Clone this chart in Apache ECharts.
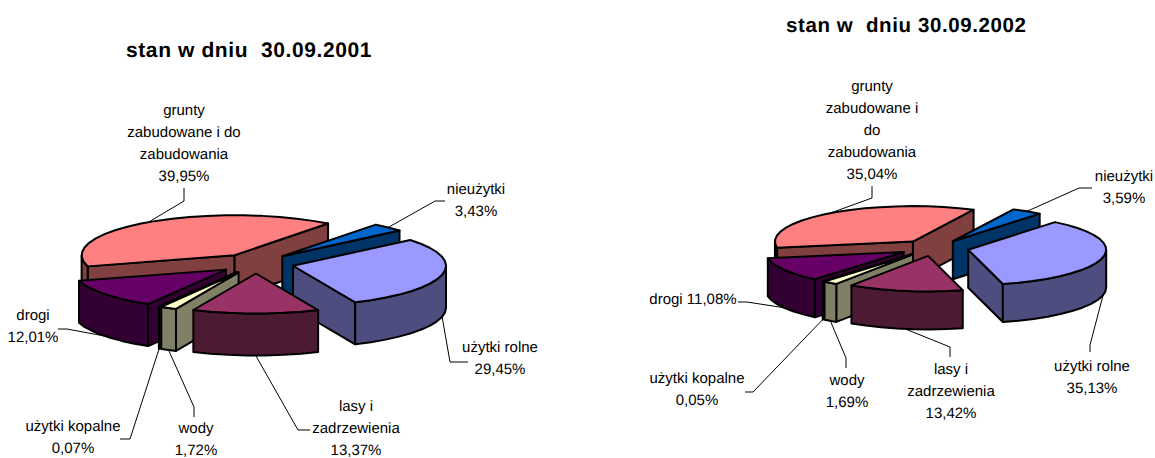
<!DOCTYPE html>
<html>
<head>
<meta charset="utf-8">
<style>
  html, body { margin: 0; padding: 0; background: #fff; }
  #main { width: 1155px; height: 458px; }
  #main text { text-rendering: geometricPrecision; }
  /* tytuly maja w oryginale rozstrzelone litery */
  #main text[style*="bold"] { letter-spacing: 0.6px; }
</style>
<script src="https://cdn.jsdelivr.net/npm/echarts@6/dist/echarts.min.js"></script>
</head>
<body>
<div id="main"></div>
<script>
// dane - kolejnosc zgodnie z ruchem wskazowek, od uzytkow rolnych
const keys = ['rolne', 'lasy', 'wody', 'kopalne', 'drogi', 'grunty', 'nieuzytki']
const values2001 = [29.45, 13.37, 1.72, 0.07, 12.01, 39.95, 3.43]
const values2002 = [35.13, 13.42, 1.69, 0.05, 11.08, 35.04, 3.59]
const names2001 = ['użytki rolne', 'lasy i\nzadrzewienia', 'wody', 'użytki kopalne', 'drogi', 'grunty\nzabudowane i do\nzabudowania', 'nieużytki']
const names2002 = ['użytki rolne', 'lasy i\nzadrzewienia', 'wody', 'użytki kopalne', 'drogi', 'grunty\nzabudowane i\ndo\nzabudowania', 'nieużytki']
const topColors = ['#9999FF', '#993366', '#FFFFCC', '#CCFFFF', '#660066', '#FF8080', '#0066CC']
const sideColors = ['#4D4D80', '#4D1A33', '#808066', '#668080', '#330033', '#804040', '#003366']
// malowane od tylu do przodu
const drawOrder = [5, 6, 0, 4, 3, 2, 1]

const FONT = '15px "Liberation Sans", Arial, sans-serif'
const TITLE_FONT = '"Liberation Sans", Arial, sans-serif'
const LINE = 22

const left = {
  cx: 256, cy: 263.5, rx: 153, ry: 40, ex: 38, ey: 10, depth: 42, startAngle: -40,
  values: values2001, names: names2001,
  // srodek etykiety [x, y] i zalamania linii odniesienia
  labels: [[500, 358.5], [356, 428], [196, 439], [73, 437.5], [33, 326.5], [184, 143], [476, 200]],
  leaders: [
    [[450, 362], [468, 362]],
    [[298, 430], [310, 430]],
    [[194, 407], [194, 417]],
    [[130, 439], [120, 439]],
    [[67, 329], [58, 329]],
    [[184, 201], [184, 188]],
    [[435, 201], [445, 201]]
  ]
}
const right = {
  cx: 934, cy: 248, rx: 138, ry: 35.5, ex: 35, ey: 8, depth: 38, startAngle: -51,
  values: values2002, names: names2002,
  labels: [[1092, 377.5], [951, 391], [847, 391.5], [697, 389.5], [693, 299.5], [872, 130.5], [1124, 187.5]],
  leaders: [
    [[1090, 345], [1090, 352]],
    [[950, 347], [950, 357]],
    [[846, 358], [846, 368]],
    [[753, 392], [745, 392]],
    [[747, 302], [738, 302]],
    [[872, 198], [872, 186]],
    [[1079, 188], [1092, 188]]
  ]
}

function rad(a) {
  return (a * Math.PI) / 180
}

// granice wycinkow w stopniach
function sliceAngles(pie) {
  let a = pie.startAngle
  return pie.values.map((v) => {
    const from = a
    a += (v / 100) * 360
    return [from, a]
  })
}

function apexOf(pie, from, to) {
  const mid = rad((from + to) / 2)
  return [pie.cx + pie.ex * Math.cos(mid), pie.cy + pie.ey * Math.sin(mid)]
}

function rimPoint(pie, apex, a, dy) {
  return [apex[0] + pie.rx * Math.cos(rad(a)), apex[1] + pie.ry * Math.sin(rad(a)) + (dy || 0)]
}

function arcPoints(pie, apex, from, to, dy) {
  const pts = []
  const n = Math.max(1, Math.ceil((to - from) / 7))
  for (let i = 0; i <= n; i++) {
    pts.push(rimPoint(pie, apex, from + ((to - from) * i) / n, dy))
  }
  return pts
}

function face(points, fill) {
  return {
    type: 'polygon',
    shape: { points: points },
    style: { fill: fill, stroke: '#000', lineWidth: 2, lineJoin: 'round' }
  }
}

function renderSlice(pie, api) {
  const i = api.value(0)
  const from = api.value(1)
  const to = api.value(2)
  const apex = apexOf(pie, from, to)
  const d = pie.depth
  const low = [apex[0], apex[1] + d]
  const children = []
  // sciany promieniowe - tylko te zwrocone do widza
  if (Math.cos(rad(from)) < 0) {
    const p = rimPoint(pie, apex, from)
    children.push(face([apex, p, [p[0], p[1] + d], low], sideColors[i]))
  }
  if (Math.cos(rad(to)) > 0) {
    const p = rimPoint(pie, apex, to)
    children.push(face([apex, p, [p[0], p[1] + d], low], sideColors[i]))
  }
  // sciana zewnetrzna, tylko przednia polowa
  const wFrom = Math.max(from, 0)
  const wTo = Math.min(to, 180)
  if (wTo > wFrom) {
    const upper = arcPoints(pie, apex, wFrom, wTo, 0)
    const lower = arcPoints(pie, apex, wFrom, wTo, d).reverse()
    children.push(face(upper.concat(lower), sideColors[i]))
  }
  children.push(face([apex].concat(arcPoints(pie, apex, from, to, 0)), topColors[i]))
  return { type: 'group', children: children }
}

function renderLabel(pie, angles, api) {
  const i = api.value(0)
  const from = angles[i][0]
  const to = angles[i][1]
  const apex = apexOf(pie, from, to)
  const mid = (from + to) / 2
  const start = rimPoint(pie, apex, mid, Math.sin(rad(mid)) > 0 ? pie.depth : 0)
  const pct = pie.values[i].toFixed(2).replace('.', ',') + '%'
  const single = pie.names[i] === 'drogi' && pie === right
  return {
    type: 'group',
    children: [
      {
        type: 'polyline',
        shape: { points: [start].concat(pie.leaders[i]) },
        style: { fill: 'none', stroke: '#000', lineWidth: 1 }
      },
      {
        type: 'text',
        style: {
          x: pie.labels[i][0],
          y: pie.labels[i][1],
          text: pie.names[i] + (single ? ' ' : '\n') + pct,
          font: FONT,
          fill: '#000',
          align: 'center',
          verticalAlign: 'middle',
          lineHeight: LINE
        }
      }
    ]
  }
}

function pieSeries(pie) {
  const angles = sliceAngles(pie)
  return [
    {
      type: 'custom',
      coordinateSystem: 'none',
      silent: true,
      animation: false,
      z: 1,
      data: keys.map((k, i) => [i]),
      renderItem: (params, api) => renderLabel(pie, angles, api)
    },
    {
      type: 'custom',
      coordinateSystem: 'none',
      silent: true,
      animation: false,
      z: 2,
      data: drawOrder.map((i) => [i, angles[i][0], angles[i][1]]),
      renderItem: (params, api) => renderSlice(pie, api)
    }
  ]
}

const myChart = echarts.init(document.getElementById('main'), null, { renderer: 'svg' })
myChart.setOption({
  backgroundColor: '#fff',
  animation: false,
  title: [
    {
      text: 'stan w dniu  30.09.2001',
      left: 121,
      top: 35,
      textStyle: { fontFamily: TITLE_FONT, fontWeight: 'bold', fontSize: 21, color: '#000' }
    },
    {
      text: 'stan w  dniu 30.09.2002',
      left: 781,
      top: 10,
      textStyle: { fontFamily: TITLE_FONT, fontWeight: 'bold', fontSize: 20.5, color: '#000' }
    }
  ],
  series: pieSeries(left).concat(pieSeries(right))
})
</script>
</body>
</html>
